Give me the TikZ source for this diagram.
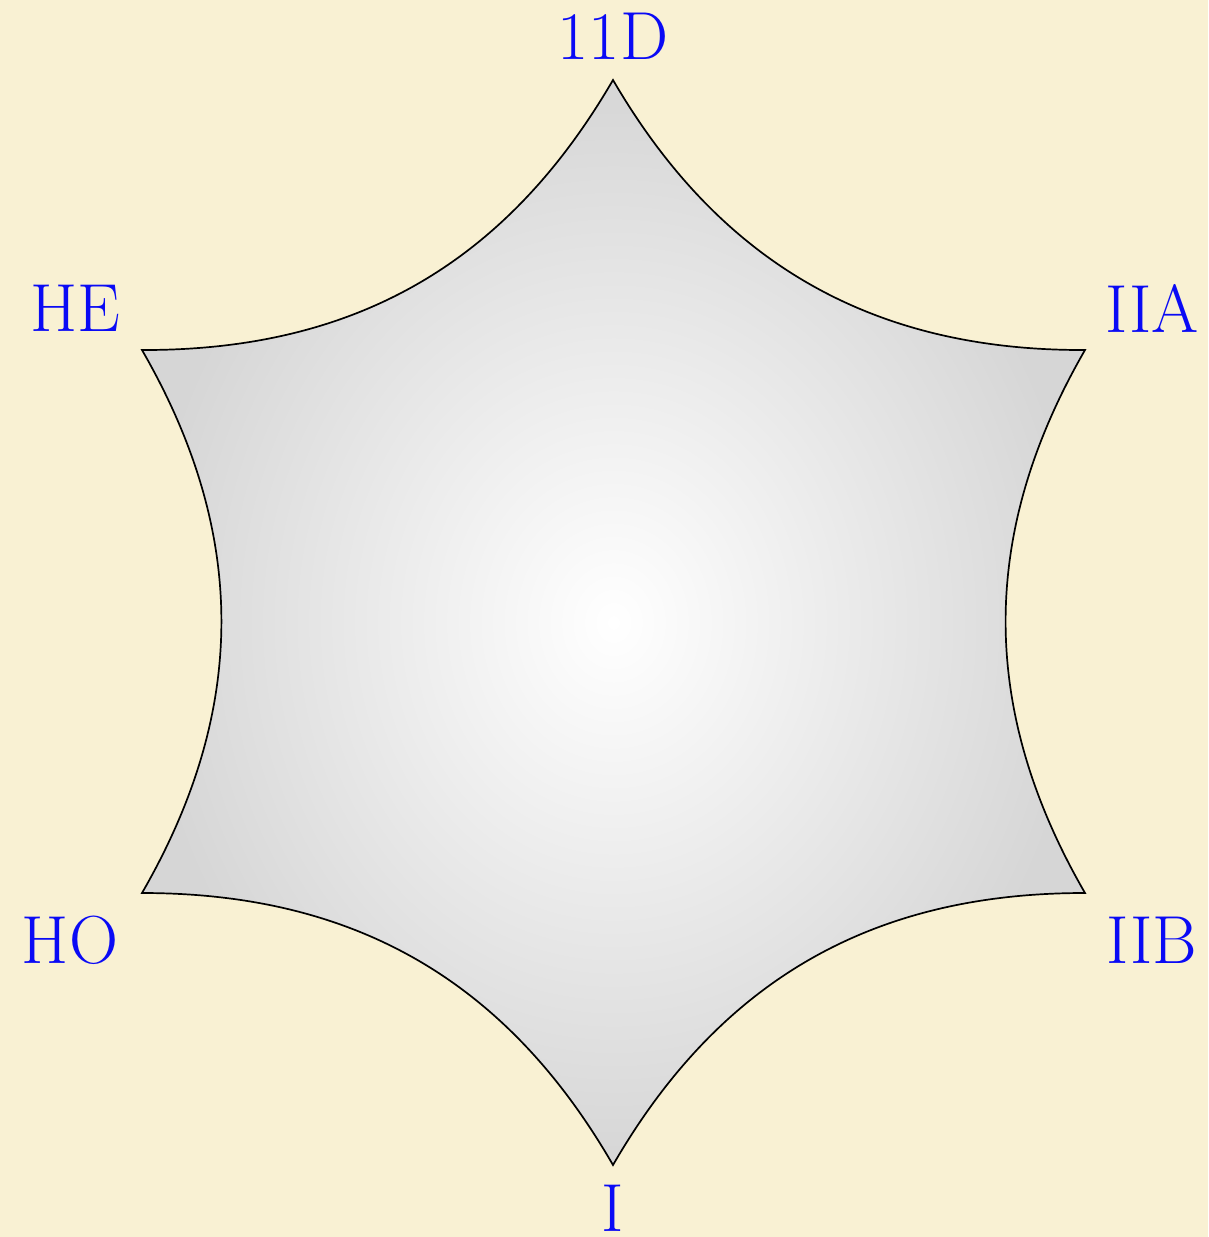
\documentclass[tikz,border=0pt]{standalone}
\usetikzlibrary{shadings}
\definecolor{bgcol}{RGB}{249,241,211}
\definecolor{outgray}{RGB}{214,214,214}
\definecolor{lblue}{RGB}{10,10,245}
\begin{document}
\begin{tikzpicture}[x=1pt,y=-1pt,
  lbl/.style={text=lblue,font=\fontsize{68}{78}\selectfont,inner sep=0pt}]
\fill[bgcol] (0,0) rectangle (1208,1237);
\useasboundingbox (0,0) rectangle (1208,1237);
\coordinate (T) at (613,80);
\coordinate (UR) at (1085,350);
\coordinate (LR) at (1085,893);
\coordinate (B) at (613,1165);
\coordinate (LL) at (142,893);
\coordinate (UL) at (142,350);
\shadedraw[inner color=white,outer color=outgray,draw=black,line width=1.7pt,line join=miter]
  (T) to[bend right=30] (UR) to[bend right=30] (LR) to[bend right=30] (B)
  to[bend right=30] (LL) to[bend right=30] (UL) to[bend right=30] (T) -- cycle;
\node[lbl] (n11D) at (613,36) {11D};
\node[lbl] (nIIA) at (1152,308) {IIA};
\node[lbl] (nIIB) at (1152,940) {IIB};
\node[lbl] (nI) at (613,1208) {I};
\node[lbl] (nHO) at (70,940) {HO};
\node[lbl] (nHE) at (75,308) {HE};
\end{tikzpicture}
\end{document}
